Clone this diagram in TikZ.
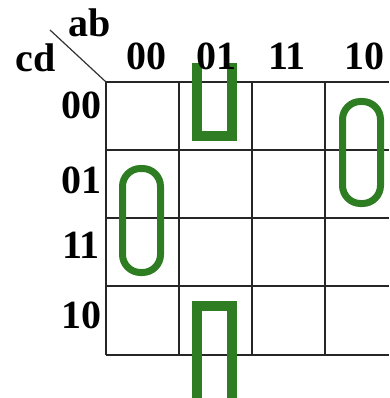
\documentclass[tikz,border=0pt]{standalone}
\usepackage{fontspec}
\setmainfont{Liberation Serif}
\definecolor{kgreen}{RGB}{46,125,34}
\begin{document}
\begin{tikzpicture}[x=1pt,y=-1pt,
  lbl/.style={anchor=base,inner sep=0pt,font=\fontsize{40}{40}\selectfont\bfseries},
  grid/.style={line width=1.6pt,draw=black!85},
  loopu/.style={draw=kgreen,line width=10pt},
  oval/.style={draw=kgreen,line width=7pt,rounded corners=18pt}]
\useasboundingbox (0,0) rectangle (389,398);
% grid
\foreach \y in {82,150,218,286,355} \draw[grid] (106,\y) -- (389,\y);
\foreach \x in {106,179,252,325} \draw[grid] (\x,82) -- (\x,355);
\draw[line width=1.2pt,draw=black!80] (50,30) -- (106,82);
% groups
\draw[loopu] (197,63) -- (197,136) -- (232,136) -- (232,63);
\draw[loopu] (197,398) -- (197,306) -- (232,306) -- (232,398);
\draw[oval] (342.5,101.5) rectangle (380.5,203.5);
\draw[oval] (122.5,168.5) rectangle (160.5,272.5);
% labels
\node[lbl] (ab) at (90,37) {ab};
\node[lbl] (cd) at (36,72) {cd};
\node[lbl] (c00) at (146,70) {00};
\node[lbl] (c01) at (216,70) {01};
\node[lbl] (c11) at (287,70) {11};
\node[lbl] (c10) at (364,70) {10};
\node[lbl] (r00) at (81,119) {00};
\node[lbl] (r01) at (81,193) {01};
\node[lbl] (r11) at (81,258) {11};
\node[lbl] (r10) at (81,328) {10};
\end{tikzpicture}
\end{document}
